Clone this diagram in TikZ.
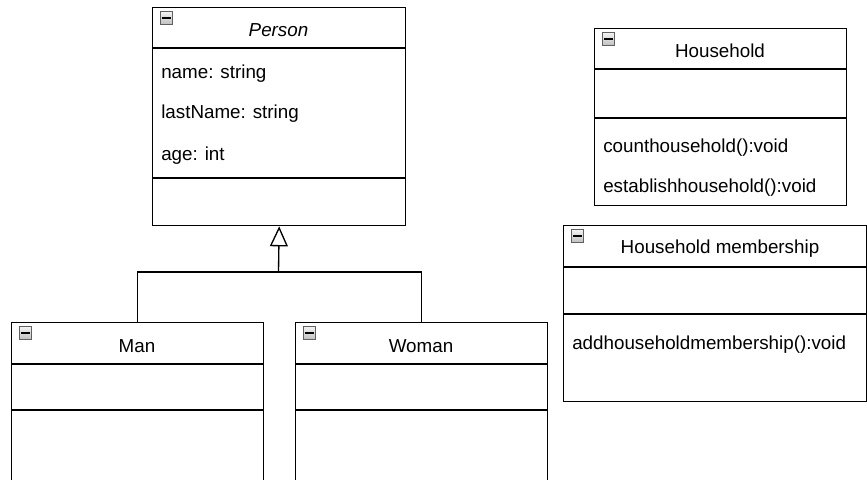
\documentclass[tikz,border=0pt]{standalone}
\usepackage{fontspec}
\setmainfont{Liberation Sans}
\usetikzlibrary{arrows.meta}
\begin{document}
\begin{tikzpicture}[x=0.75pt,y=-0.75pt,
  classbox/.style={draw=black,line width=1pt,fill=white,anchor=north west,inner sep=0pt},
  divider/.style={draw=black,line width=1pt},
  member/.style={anchor=west,inner sep=0pt,yshift=-1.9pt,font=\fontsize{14.1}{17}\selectfont},
  title/.style={anchor=center,inner sep=0pt,yshift=-1pt,font=\fontsize{14.1}{17}\selectfont},
  icon/.style={draw=gray!75!black,line width=0.6pt,top color=gray!10,bottom color=gray!50,minimum width=9.5pt,minimum height=9.5pt,inner sep=0pt,
    path picture={\draw[black,line width=1.4pt] ([xshift=1.5pt]path picture bounding box.west) -- ([xshift=-1.5pt]path picture bounding box.east);}},
  conn/.style={draw=black,line width=1pt}]
\useasboundingbox (0,0) rectangle (867,479);
\clip (0,0) rectangle (867,479);
\fill[white] (0,0) rectangle (867,479);

% Person
\node[classbox,minimum width=189.75pt,minimum height=163.5pt] (person) at (152,7) {};
\draw[divider] (152,48) -- (405,48);
\draw[divider] (152,178) -- (405,178);
\node[icon] (personicon) at (166.5,18) {};
\node[title] (persontitle) at (278.5,29) {\itshape Person};
\node[member] (pname) at (161,71) {name: string};
\node[member] (plast) at (161,111) {lastName: string};
\node[member] (page) at (161,153) {age: int};

% Household
\node[classbox,minimum width=189pt,minimum height=132.75pt] (household) at (594,28) {};
\draw[divider] (594,69) -- (846,69);
\draw[divider] (594,118) -- (846,118);
\node[icon] (householdicon) at (608.5,39) {};
\node[title] (householdtitle) at (720,49) {Household};
\node[member] (hcount) at (603,145) {counthousehold():void};
\node[member] (hestab) at (603,185) {establishhousehold():void};

% Household membership
\node[classbox,minimum width=227.25pt,minimum height=132pt] (membership) at (563,225) {};
\draw[divider] (563,267) -- (866,267);
\draw[divider] (563,314) -- (866,314);
\node[icon] (membershipicon) at (577.5,236) {};
\node[title] (membershiptitle) at (720,247) {Household membership};
\node[member] (madd) at (572,342) {addhouseholdmembership():void};

% Man
\node[classbox,minimum width=189pt,minimum height=150pt] (man) at (11,322) {};
\draw[divider] (11,364) -- (263,364);
\draw[divider] (11,410) -- (263,410);
\node[icon] (manicon) at (25.5,333) {};
\node[title] (mantitle) at (137,345) {Man};

% Woman
\node[classbox,minimum width=189pt,minimum height=150pt] (woman) at (295,322) {};
\draw[divider] (295,364) -- (547,364);
\draw[divider] (295,410) -- (547,410);
\node[icon] (womanicon) at (309.5,333) {};
\node[title] (womantitle) at (421,345) {Woman};

% Generalization
\coordinate (join) at (278.5,272);
\draw[conn] (man.north) |- (join) -| (woman.north);
\draw[conn,-{Triangle[open,length=15pt,width=13.5pt,line width=1pt]}] (join) -- (person.south);
\end{tikzpicture}
\end{document}
